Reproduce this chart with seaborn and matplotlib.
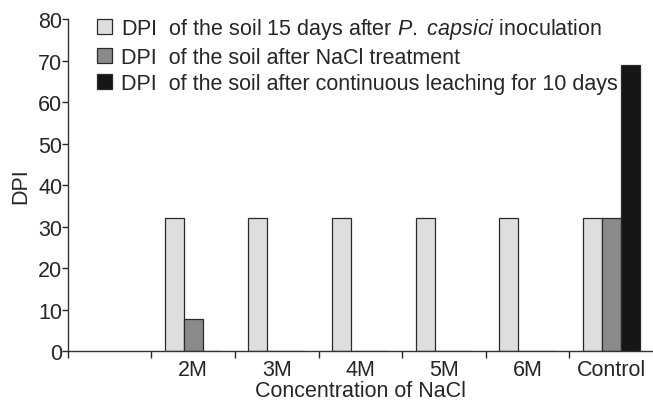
import pandas as pd
import matplotlib.pyplot as plt
import seaborn as sns

# Data
concentrations = ['', '2M', '3M', '4M', '5M', '6M', 'Control']
dpi_inoculation = [32, 32, 32, 32, 32, 32]
dpi_nacl = [7.7, 0, 0, 0, 0, 32]
dpi_leaching = [0, 0, 0, 0, 0, 69]
groups = ['2M', '3M', '4M', '5M', '6M', 'Control']
series = ['inoc', 'nacl', 'leach']
legend_labels = [
    r'DPI  of the soil 15 days after $\mathit{P.\ capsici}$ inoculation',
    'DPI  of the soil after NaCl treatment',
    'DPI  of the soil after continuous leaching for 10 days',
]
colors = ['#dedede', '#8a8a8a', '#161616']

df = pd.DataFrame({
    'conc': groups * 3,
    'series': [s for s in series for _ in groups],
    'dpi': dpi_inoculation + dpi_nacl + dpi_leaching,
})

sns.set_style('ticks')
plt.rcParams['font.family'] = ['Liberation Sans', 'DejaVu Sans']
plt.rcParams['mathtext.fontset'] = 'custom'
plt.rcParams['mathtext.rm'] = 'Liberation Sans'
plt.rcParams['mathtext.it'] = 'Liberation Sans:italic'

fs = 15.5
fig = plt.figure(figsize=(6.53, 4.02), dpi=100)
ax = fig.add_axes([0.104, 0.124, 0.896, 0.826])

sns.barplot(data=df, x='conc', y='dpi', hue='series', order=concentrations,
            hue_order=series, palette=colors, width=0.68, edgecolor='#2a2a2a',
            linewidth=0.9, ax=ax)

ax.set_xlim(-0.5, 6.5)
ax.set_ylim(0, 80)
ax.set_yticks(range(0, 81, 10))
ax.tick_params(axis='y', labelsize=fs, length=4, width=1, pad=0)
ax.set_xticks(range(len(concentrations)))
ax.set_xticklabels(concentrations)
ax.tick_params(axis='x', which='major', length=0, labelsize=fs, pad=6)
ax.set_xticks([i - 0.5 for i in range(len(concentrations))], minor=True)
ax.tick_params(axis='x', which='minor', length=5, width=1)
ax.set_xlabel('Concentration of NaCl', fontsize=fs, labelpad=0)
ax.set_ylabel('DPI', fontsize=fs)
ax.yaxis.set_label_coords(-0.062, 0.5)
for side in ['top', 'right']:
    ax.spines[side].set_visible(False)
for side in ['left', 'bottom']:
    ax.spines[side].set_color('#333333')
    ax.spines[side].set_linewidth(1)

handles, _ = ax.get_legend_handles_labels()
ax.legend(handles, legend_labels, loc='upper left', bbox_to_anchor=(0.035, 1.036),
          frameon=False, fontsize=fs, handlelength=0.7, handleheight=0.7,
          handletextpad=0.4, labelspacing=0.27, borderaxespad=0)

fig.savefig('out.png', dpi=100)
